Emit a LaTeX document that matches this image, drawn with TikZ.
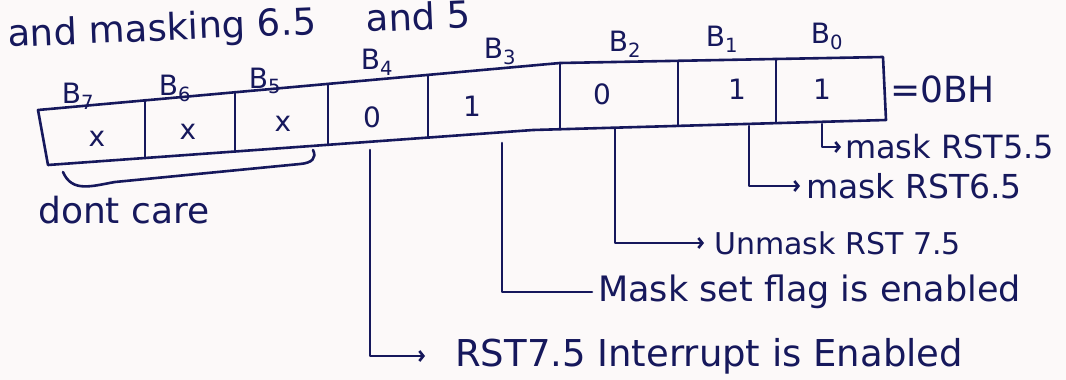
\documentclass[tikz,border=0pt]{standalone}
\usepackage{fontspec}
\setmainfont{DejaVu Sans}
\usetikzlibrary{arrows.meta}
\definecolor{ink}{RGB}{22,24,92}
\definecolor{paper}{RGB}{252,249,249}
\newcommand{\fsz}[1]{\fontsize{#1}{#1}\selectfont}
\begin{document}
\begin{tikzpicture}[x=1pt,y=-1pt,
  pen/.style={draw=ink,line width=2.6pt,line cap=round,line join=round},
  hook/.style={pen,-{Straight Barb[length=4pt,width=10pt,line width=2.6pt]}},
  txt/.style={text=ink,inner sep=0pt,font=\fsz{30}},
  cell/.style={txt,font=\fsz{28}},
  bit/.style={txt,font=\fsz{28}}]
\fill[paper] (0,0) rectangle (1066,380);
\useasboundingbox (0,0) rectangle (1066,380);
\clip (0,0) rectangle (1066,380);

% heading line, running up to the right
\node[txt,anchor=base west,rotate=2.4,font=\fsz{37}] (title) at (8,47) {and masking 6.5\hspace{50pt}and 5};

% register outline
\coordinate (tl) at (38,110);
\coordinate (tm) at (560,63);
\coordinate (tr) at (883,57);
\coordinate (br) at (886,120);
\coordinate (bm) at (533,130);
\coordinate (bl) at (48,165);
\draw[pen] (tl) -- (tm) -- (tr) -- (br) -- (bm) -- (bl) -- cycle;

% dividers between the bits
\draw[pen] (145,100) -- (145,158);
\draw[pen] (235,92) -- (235,151);
\draw[pen] (328,84) -- (328,145);
\draw[pen] (428,75) -- (428,137);
\draw[pen] (560,63) -- (560,129);
\draw[pen] (678,61) -- (678,126);
\draw[pen] (776,59) -- (776,123);

% bit values
\node[cell] (v7) at (97,139) {x};
\node[cell] (v6) at (188,132) {x};
\node[cell] (v5) at (283,124) {x};
\node[cell] (v4) at (372,117) {0};
\node[cell] (v3) at (472,106) {1};
\node[cell] (v2) at (602,94) {0};
\node[cell] (v1) at (737,89) {1};
\node[cell] (v0) at (822,89) {1};
\node[txt,anchor=west,font=\fsz{36}] (hex) at (890,89) {=0BH};

% bit names
\node[bit] (b7) at (78,96) {B\textsubscript{7}};
\node[bit] (b6) at (175,88) {B\textsubscript{6}};
\node[bit] (b5) at (265,81) {B\textsubscript{5}};
\node[bit] (b4) at (377,62) {B\textsubscript{4}};
\node[bit] (b3) at (500,51) {B\textsubscript{3}};
\node[bit] (b2) at (625,44) {B\textsubscript{2}};
\node[bit] (b1) at (722,39) {B\textsubscript{1}};
\node[bit] (b0) at (827,36) {B\textsubscript{0}};

% brace under the unused bits
\coordinate (ba) at (313,150);
\coordinate (bb) at (300,164);
\coordinate (bc) at (115,182);
\coordinate (bd) at (63,172);
\draw[pen] (ba) .. controls (317,158) and (312,163) .. (bb) -- (bc) .. controls (92,186) and (72,193) .. (bd);
\node[txt,anchor=west,font=\fsz{36}] (dc) at (38,210) {dont care};

% notes on the individual bits
\node[txt,anchor=west,font=\fsz{32}] (n0) at (845,147) {mask RST5.5};
\node[txt,anchor=west,font=\fsz{33}] (n1) at (806,186) {mask RST6.5};
\node[txt,anchor=west] (n2) at (714,243) {Unmask RST 7.5};
\node[txt,anchor=west,font=\fsz{35}] (n3) at (598,292) {Mask set flag is enabled};
\node[txt,anchor=west,font=\fsz{37}] (n4) at (455,356) {RST7.5 Interrupt is Enabled};

\coordinate (s0) at (822,124);
\coordinate (s1) at (749,126);
\coordinate (s2) at (615,129);
\coordinate (s3) at (502,143);
\coordinate (s4) at (370,150);
\draw[hook] (s0) |- ([xshift=-4pt]n0.west);
\draw[hook] (s1) |- ([xshift=-6pt]n1.west);
\draw[hook] (s2) |- ([xshift=-10pt]n2.west);
\draw[pen] (s3) |- ([xshift=-6pt]n3.west);
\draw[hook] (s4) |- ([xshift=-30pt]n4.west);
\end{tikzpicture}
\end{document}
